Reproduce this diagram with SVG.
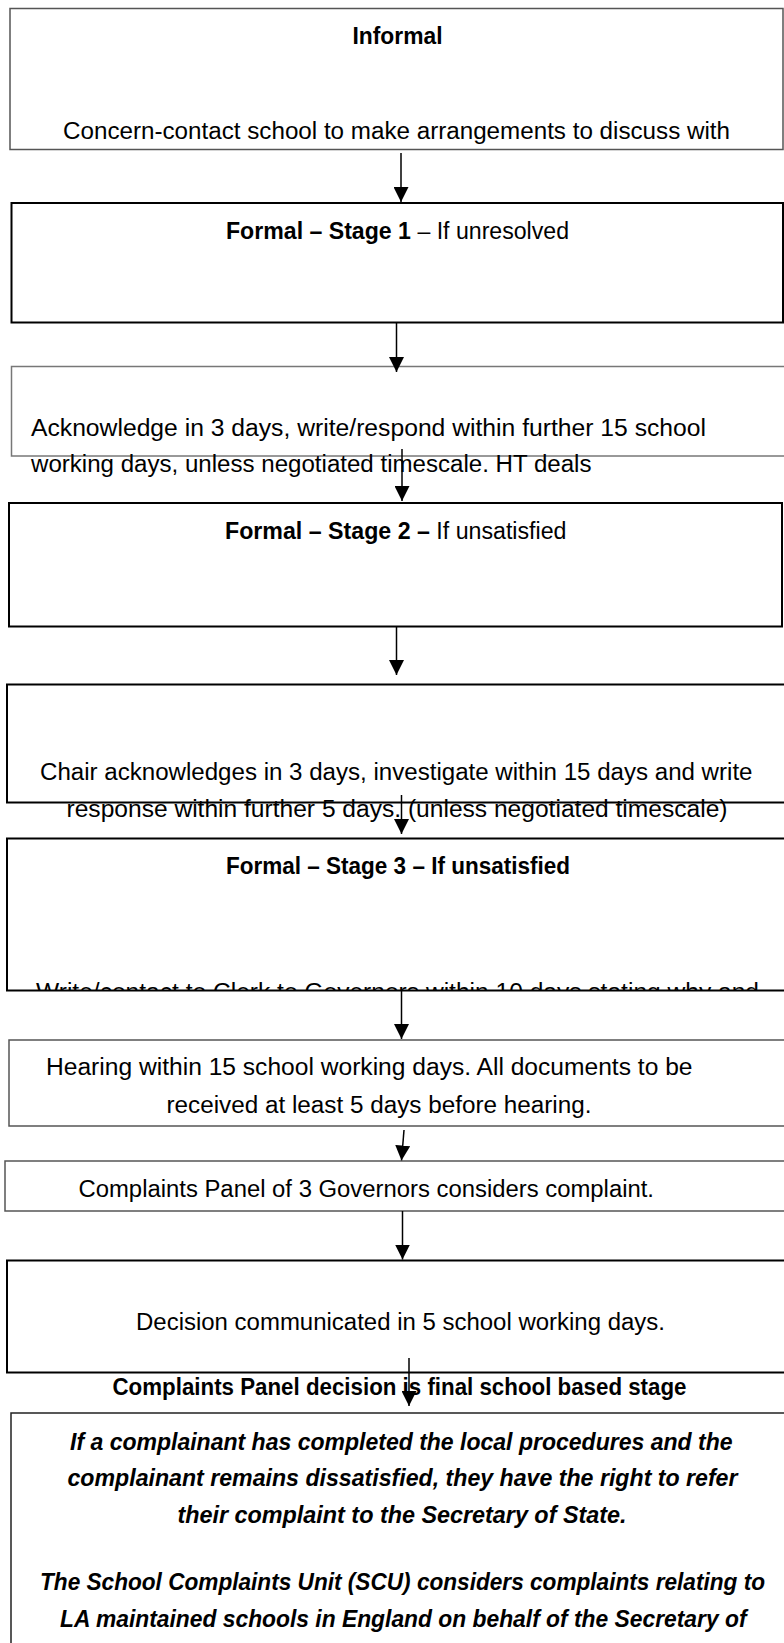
<svg xmlns="http://www.w3.org/2000/svg" width="784" height="1643" viewBox="0 0 784 1643">
<style>
.t{font-family:"Liberation Sans",Arial,sans-serif;font-size:23px;fill:#000}
.b{font-weight:bold}
.bi{font-weight:bold;font-style:italic}
.box{fill:#fff}
.k{stroke:#000;stroke-width:2}
.g{stroke:#555;stroke-width:1.5}
.lg{stroke:#777;stroke-width:1.5}
.conn line{stroke:#000;stroke-width:1.5;fill:none}
</style>
<defs>
<marker id="ah" markerUnits="userSpaceOnUse" markerWidth="15" markerHeight="15" refX="15" refY="7.5" orient="auto">
<path d="M0,0 L15,7.5 L0,15 z" fill="#000"/>
</marker>
<clipPath id="c3"><rect x="0" y="838" width="784" height="152"/></clipPath>
</defs>
<rect x="0" y="0" width="784" height="1643" fill="#fff"/>

<g id="informal">
<rect class="box g" x="10" y="8.5" width="773" height="141"/>
<text class="t b" x="352.5" y="43.5" textLength="90" lengthAdjust="spacingAndGlyphs">Informal</text>
<text class="t" x="63" y="139" textLength="667" lengthAdjust="spacingAndGlyphs">Concern-contact school to make arrangements to discuss with</text>
</g>

<g id="stage1">
<rect class="box k" x="11.5" y="203" width="771.5" height="119.5"/>
<text class="t" x="226" y="238.5" textLength="343" lengthAdjust="spacingAndGlyphs"><tspan class="b">Formal – Stage 1</tspan> – If unresolved</text>
</g>

<g id="acknowledge">
<rect class="box lg" x="11.5" y="366.5" width="800" height="89.5"/>
<text class="t" x="31" y="436" textLength="675" lengthAdjust="spacingAndGlyphs">Acknowledge in 3 days, write/respond within further 15 school</text>
<text class="t" x="31" y="471.5" textLength="560.5" lengthAdjust="spacingAndGlyphs">working days, unless negotiated timescale. HT deals</text>
</g>

<g id="stage2">
<rect class="box k" x="9" y="503" width="773" height="123.5"/>
<text class="t" x="225" y="538.5" textLength="341.5" lengthAdjust="spacingAndGlyphs"><tspan class="b">Formal – Stage 2 –</tspan> If unsatisfied</text>
</g>

<g id="chair">
<rect class="box k" x="7" y="684.5" width="800" height="118"/>
<text class="t" x="40" y="780" textLength="712.5" lengthAdjust="spacingAndGlyphs">Chair acknowledges in 3 days, investigate within 15 days and write</text>
<text class="t" x="66.5" y="816.5" textLength="661" lengthAdjust="spacingAndGlyphs">response within further 5 days. (unless negotiated timescale)</text>
</g>

<g id="stage3">
<rect class="box k" x="7" y="838.5" width="800" height="152"/>
<text class="t b" x="226" y="874" textLength="344" lengthAdjust="spacingAndGlyphs">Formal – Stage 3 – If unsatisfied</text>
<text class="t" x="36" y="1000" textLength="723" lengthAdjust="spacingAndGlyphs" clip-path="url(#c3)">Write/contact to Clerk to Governors within 10 days stating why and</text>
</g>

<g id="hearing">
<rect class="box g" x="9" y="1040" width="800" height="86"/>
<text class="t" x="46" y="1075" textLength="646.5" lengthAdjust="spacingAndGlyphs">Hearing within 15 school working days.  All documents to be</text>
<text class="t" x="166.5" y="1112.5" textLength="425" lengthAdjust="spacingAndGlyphs">received at least 5 days before hearing.</text>
</g>

<g id="panel">
<rect class="box g" x="5" y="1161" width="800" height="50"/>
<text class="t" x="78.5" y="1196.5" textLength="575.5" lengthAdjust="spacingAndGlyphs">Complaints Panel of 3 Governors considers complaint.</text>
</g>

<g id="decision">
<rect class="box k" x="7" y="1260.5" width="800" height="112"/>
<text class="t" x="136" y="1330" textLength="529" lengthAdjust="spacingAndGlyphs">Decision communicated in 5 school working days.</text>
</g>

<g id="final-label">
<text class="t b" x="112.5" y="1395" textLength="574" lengthAdjust="spacingAndGlyphs">Complaints Panel decision is final school based stage</text>
</g>

<g id="secretary">
<rect class="box" x="11" y="1413" width="800" height="300" stroke="#222" stroke-width="1.5"/>
<text class="t bi" x="70" y="1449.5" textLength="662.5" lengthAdjust="spacingAndGlyphs">If a complainant has completed the local procedures and the</text>
<text class="t bi" x="67.5" y="1486" textLength="670" lengthAdjust="spacingAndGlyphs">complainant remains dissatisfied, they have the right to refer</text>
<text class="t bi" x="177.5" y="1522.5" textLength="449" lengthAdjust="spacingAndGlyphs">their complaint to the Secretary of State.</text>
<text class="t bi" x="40" y="1590" textLength="725" lengthAdjust="spacingAndGlyphs">The School Complaints Unit (SCU) considers complaints relating to</text>
<text class="t bi" x="60" y="1626.5" textLength="686.5" lengthAdjust="spacingAndGlyphs">LA maintained schools in England on behalf of the Secretary of</text>
</g>

<g id="connectors" class="conn">
<line x1="401" y1="153" x2="401" y2="202" marker-end="url(#ah)"/>
<line x1="396.5" y1="323" x2="396.5" y2="372" marker-end="url(#ah)"/>
<line x1="402" y1="449" x2="402" y2="501" marker-end="url(#ah)"/>
<line x1="396.5" y1="627" x2="396.5" y2="675" marker-end="url(#ah)"/>
<line x1="401.5" y1="795" x2="401.5" y2="834" marker-end="url(#ah)"/>
<line x1="401.5" y1="991" x2="401.5" y2="1039" marker-end="url(#ah)"/>
<line x1="404" y1="1130" x2="401.5" y2="1160.5" marker-end="url(#ah)"/>
<line x1="402.5" y1="1211" x2="402.5" y2="1259.5" marker-end="url(#ah)"/>
<line x1="409" y1="1358" x2="409" y2="1406" marker-end="url(#ah)"/>
</g>
</svg>
